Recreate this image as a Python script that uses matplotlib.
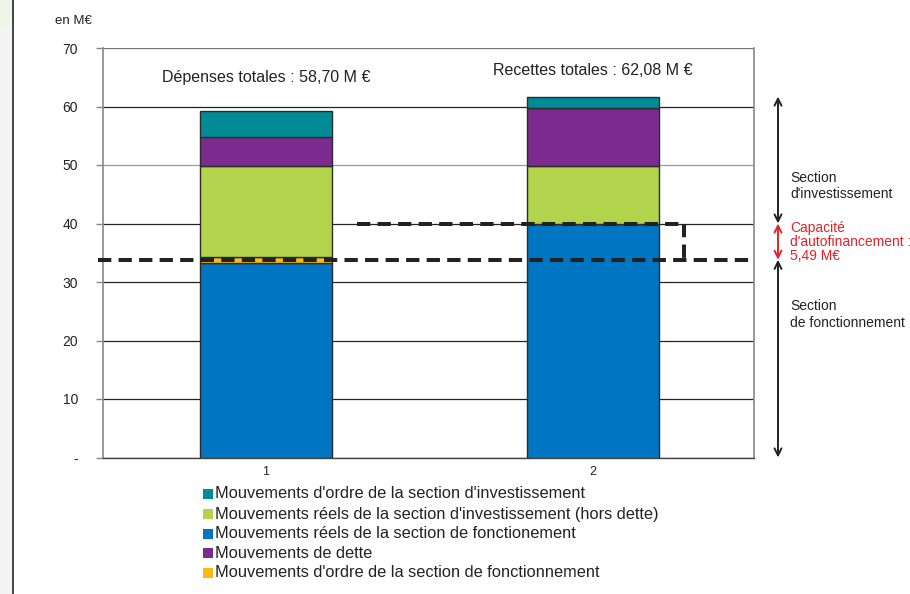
import matplotlib
matplotlib.use("Agg")
import matplotlib.pyplot as plt
import matplotlib.transforms as mtransforms
from matplotlib.patches import Rectangle
from matplotlib.lines import Line2D

plt.rcParams['font.family'] = ['Liberation Sans', 'DejaVu Sans']

# ---- data ----
categories = ["1", "2"]
# stacking order bottom -> top
series_names = [
    "Mouvements réels de la section de fonctionement",
    "Mouvements d'ordre de la section de fonctionnement",
    "Mouvements réels de la section d'investissement (hors dette)",
    "Mouvements de dette",
    "Mouvements d'ordre de la section d'investissement",
]
series_values = [
    [33.25, 40.0],
    [1.05, 0.0],
    [15.6, 9.9],
    [4.9, 9.9],
    [4.35, 1.9],
]
series_colors = ["#0075C2", "#FDBA12", "#B2D34B", "#7D2A8E", "#008B95"]
legend_order = [4, 2, 0, 3, 1]

yticks = [0, 10, 20, 30, 40, 50, 60, 70]
ytick_labels = ["-", "10", "20", "30", "40", "50", "60", "70"]

caf_low = 33.8   # fonctionnement level
caf_high = 40.0  # investissement level
caf_top = 61.7   # recettes top
titles = ["Dépenses totales : 58,70 M €", "Recettes totales : 62,08 M €"]
unit_label = "en M€"
right_labels = ["Section\nd'investissement", "Capacité\nd'autofinancement :\n5,49 M€",
                "Section\nde fonctionnement"]

# ---- figure ----
fig = plt.figure(figsize=(9.10, 5.94), dpi=100)
ax = fig.add_axes([103 / 910, 1 - 457.5 / 594, 651 / 910, 409.5 / 594])

x = list(range(len(categories)))
bottoms = [0.0] * len(categories)
for vals, col in zip(series_values, series_colors):
    ax.bar(x, vals, width=0.404, bottom=bottoms, color=col,
           edgecolor="#2b2b2b", linewidth=1.0, zorder=3)
    bottoms = [bo + v for bo, v in zip(bottoms, vals)]

ax.set_xlim(-0.4985, 1.492)
ax.set_ylim(0, 70)
ax.set_xticks(x)
ax.set_xticklabels(categories, fontsize=9, color="#222222")
ax.set_yticks(yticks)
ax.set_yticklabels(ytick_labels, fontsize=10, color="#222222")
ax.tick_params(axis="y", direction="out", length=5, color="#888888", width=1, pad=13)
ax.tick_params(axis="x", length=0, pad=6)

ax.yaxis.grid(True, color="#222222", linewidth=0.9, zorder=1)
gl = ax.get_ygridlines()
gl[5].set_color("#999999")
gl[7].set_color("#777777")
ax.set_axisbelow(True)
for s in ["left", "right"]:
    ax.spines[s].set_color("#888888")
    ax.spines[s].set_linewidth(1.2)
ax.spines["top"].set_visible(False)
ax.spines["bottom"].set_color("#444444")
ax.spines["bottom"].set_linewidth(1.0)

# dashed level lines
dash_kw = dict(color="#222222", linewidth=2.9, dashes=(3.3, 1.8),
               solid_capstyle="butt", dash_capstyle="butt", zorder=5, clip_on=False)
ax.plot([-0.515, 1.492], [caf_low, caf_low], **dash_kw)
ax.plot([0.277, 1.279], [caf_high, caf_high], **dash_kw)
ax.plot([1.279, 1.279], [caf_high, caf_low], **dash_kw)

# titles
ax.text(0, 65.0, titles[0], ha="center", va="center", fontsize=11.5, color="#222222")
ax.text(1, 66.2, titles[1], ha="center", va="center", fontsize=11.5, color="#222222")

# right-side arrows
trans = mtransforms.blended_transform_factory(ax.transAxes, ax.transData)
ax_x = (778 - 103) / 651
arrow_spans = [(caf_top, caf_high, "#222222"), (caf_high, caf_low, "#E8202A"),
               (caf_low, 0, "#222222")]
for y0, y1, col in arrow_spans:
    ax.annotate("", xy=(ax_x, y1), xytext=(ax_x, y0), xycoords=trans, textcoords=trans,
                arrowprops=dict(arrowstyle="<->,head_length=0.5,head_width=0.25",
                                color=col, lw=1.4, shrinkA=0, shrinkB=0),
                annotation_clip=False)
tx = (790 - 103) / 651
ax.text(tx, 46.4, right_labels[0], transform=trans, ha="left", va="center",
        fontsize=10, color="#222222", linespacing=1.2)
ax.text(tx, 36.8, right_labels[1], transform=trans, ha="left", va="center",
        fontsize=10, color="#E8202A", linespacing=1.02)
ax.text(tx, 24.4, right_labels[2], transform=trans, ha="left", va="center",
        fontsize=10, color="#222222", linespacing=1.3)

fig.text(73 / 910, 1 - 21 / 594, unit_label, ha="center", va="center",
         fontsize=9.5, color="#222222")

# legend
rows_y = [494, 514, 533.5, 553, 572.5]
for row, idx in zip(rows_y, legend_order):
    fig.patches.append(Rectangle((203 / 910, 1 - (row + 5) / 594), 10 / 910, 10 / 594,
                                 transform=fig.transFigure, facecolor=series_colors[idx],
                                 edgecolor="none"))
    fig.text(215 / 910, 1 - row / 594, series_names[idx], ha="left", va="center",
             fontsize=11.8, color="#222222")

# page decoration on the left
fig.patches.append(Rectangle((0, 0), 12 / 910, 1, transform=fig.transFigure,
                             facecolor="#f4f4f4", edgecolor="none", zorder=0))
fig.patches.append(Rectangle((0, 1 - 25 / 594), 12 / 910, 25 / 594, transform=fig.transFigure,
                             facecolor="#eef6e8", edgecolor="none", zorder=0))
fig.add_artist(Line2D([12.5 / 910, 12.5 / 910], [0, 1], transform=fig.transFigure,
                      color="#222222", linewidth=1.2))

fig.savefig("out.png", dpi=100)
